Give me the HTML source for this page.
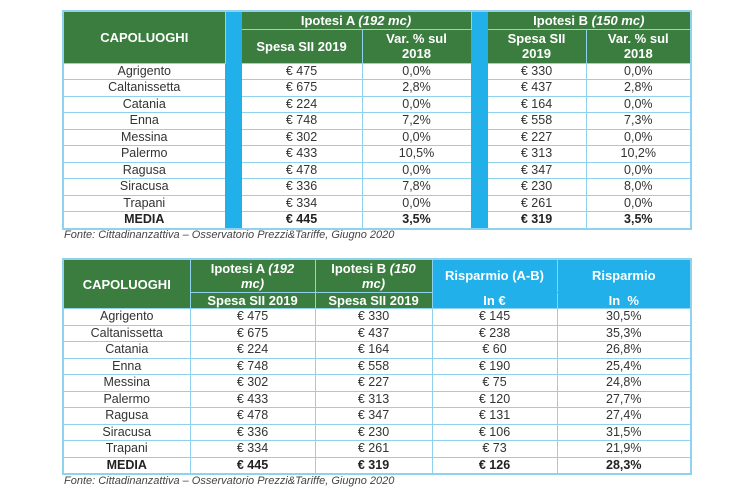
<!DOCTYPE html>
<html><head><meta charset="utf-8"><style>
body{margin:0;width:750px;height:500px;background:#fff;font-family:"Liberation Sans",Arial,sans-serif;position:relative;overflow:hidden}
table{position:absolute;border-collapse:collapse;table-layout:fixed;border:2px solid #8fd2ee}
td{border:1px solid #8fd2ee;padding:0;text-align:center;font-size:12.5px;color:#333;height:15.5px;line-height:15px;overflow:hidden;white-space:nowrap}
td.h{background:#3b7d3f;color:#fff;font-weight:bold;font-size:13px;line-height:15px}
td.s{background:#22b0ea;border-color:#22b0ea}
td.b{background:#22b0ea;color:#fff;font-weight:bold;font-size:13px}
tr.m td{font-weight:bold;color:#222}
.f{position:absolute;left:64px;font-size:11px;font-style:italic;color:#444}
</style></head><body>
<table style="left:62px;top:10px;width:628px">
<colgroup><col style="width:162px"><col style="width:16px"><col style="width:121px"><col style="width:109px"><col style="width:16px"><col style="width:99px"><col style="width:105px"></colgroup>
<tr style="height:18px"><td class="h" rowspan="2">CAPOLUOGHI</td><td class="s" rowspan="12"></td><td class="h" colspan="2">Ipotesi A <i>(192 mc)</i></td><td class="s" rowspan="12"></td><td class="h" colspan="2">Ipotesi B <i>(150 mc)</i></td></tr>
<tr style="height:34px"><td class="h">Spesa SII 2019</td><td class="h">Var. % sul<br>2018</td><td class="h">Spesa SII<br>2019</td><td class="h">Var. % sul<br>2018</td></tr>
<tr><td>Agrigento</td><td>€ 475</td><td>0,0%</td><td>€ 330</td><td>0,0%</td></tr>
<tr><td>Caltanissetta</td><td>€ 675</td><td>2,8%</td><td>€ 437</td><td>2,8%</td></tr>
<tr><td>Catania</td><td>€ 224</td><td>0,0%</td><td>€ 164</td><td>0,0%</td></tr>
<tr><td>Enna</td><td>€ 748</td><td>7,2%</td><td>€ 558</td><td>7,3%</td></tr>
<tr><td>Messina</td><td>€ 302</td><td>0,0%</td><td>€ 227</td><td>0,0%</td></tr>
<tr><td>Palermo</td><td>€ 433</td><td>10,5%</td><td>€ 313</td><td>10,2%</td></tr>
<tr><td>Ragusa</td><td>€ 478</td><td>0,0%</td><td>€ 347</td><td>0,0%</td></tr>
<tr><td>Siracusa</td><td>€ 336</td><td>7,8%</td><td>€ 230</td><td>8,0%</td></tr>
<tr><td>Trapani</td><td>€ 334</td><td>0,0%</td><td>€ 261</td><td>0,0%</td></tr>
<tr class="m"><td>MEDIA</td><td>€ 445</td><td>3,5%</td><td>€ 319</td><td>3,5%</td></tr>
</table>
<div class="f" style="top:229px">Fonte: Cittadinanzattiva – Osservatorio Prezzi&amp;Tariffe, Giugno 2020</div>

<table style="left:62px;top:258px;width:628px">
<colgroup><col style="width:127px"><col style="width:125px"><col style="width:117px"><col style="width:125px"><col style="width:134px"></colgroup>
<tr style="height:33px"><td class="h" rowspan="2">CAPOLUOGHI</td><td class="h">Ipotesi A <i>(192<br>mc)</i></td><td class="h">Ipotesi B <i>(150<br>mc)</i></td><td class="b" style="border-bottom-color:#22b0ea">Risparmio (A-B)</td><td class="b" style="border-bottom-color:#22b0ea">Risparmio</td></tr>
<tr style="height:16px"><td class="h">Spesa SII 2019</td><td class="h">Spesa SII 2019</td><td class="b">In €</td><td class="b">In &nbsp;%</td></tr>
<tr><td>Agrigento</td><td>€ 475</td><td>€ 330</td><td>€ 145</td><td>30,5%</td></tr>
<tr><td>Caltanissetta</td><td>€ 675</td><td>€ 437</td><td>€ 238</td><td>35,3%</td></tr>
<tr><td>Catania</td><td>€ 224</td><td>€ 164</td><td>€ 60</td><td>26,8%</td></tr>
<tr><td>Enna</td><td>€ 748</td><td>€ 558</td><td>€ 190</td><td>25,4%</td></tr>
<tr><td>Messina</td><td>€ 302</td><td>€ 227</td><td>€ 75</td><td>24,8%</td></tr>
<tr><td>Palermo</td><td>€ 433</td><td>€ 313</td><td>€ 120</td><td>27,7%</td></tr>
<tr><td>Ragusa</td><td>€ 478</td><td>€ 347</td><td>€ 131</td><td>27,4%</td></tr>
<tr><td>Siracusa</td><td>€ 336</td><td>€ 230</td><td>€ 106</td><td>31,5%</td></tr>
<tr><td>Trapani</td><td>€ 334</td><td>€ 261</td><td>€ 73</td><td>21,9%</td></tr>
<tr class="m"><td>MEDIA</td><td>€ 445</td><td>€ 319</td><td>€ 126</td><td>28,3%</td></tr>
</table>
<div class="f" style="top:475px">Fonte: Cittadinanzattiva – Osservatorio Prezzi&amp;Tariffe, Giugno 2020</div>
</body></html>
